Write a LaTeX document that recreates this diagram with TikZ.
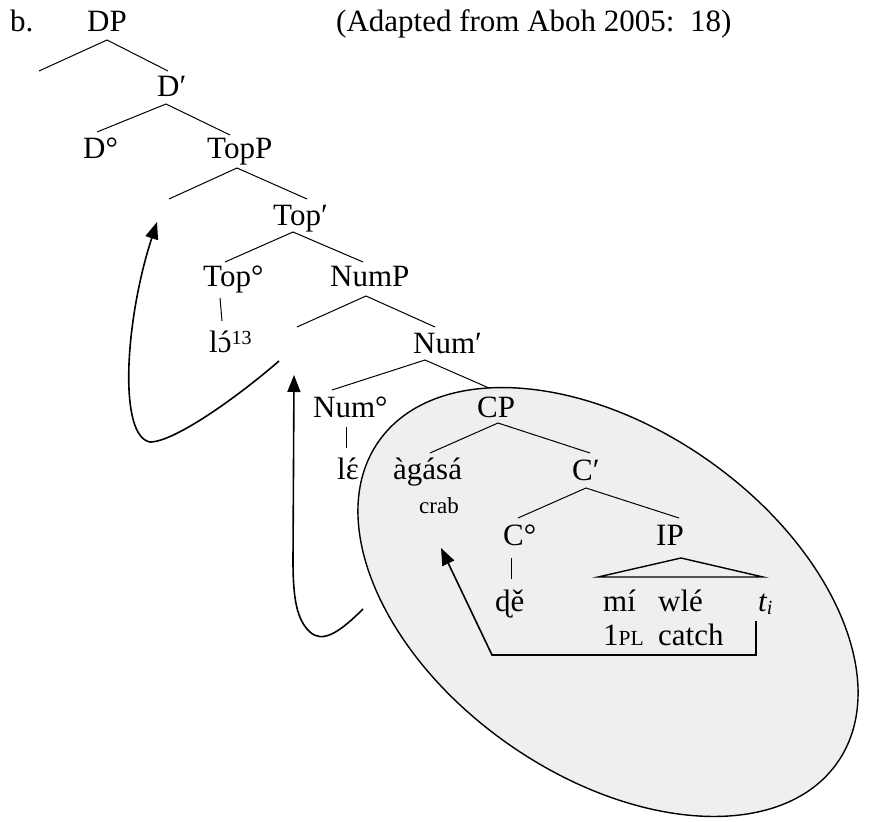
\documentclass[tikz,border=0pt]{standalone}
\usepackage{fontspec}
\setmainfont{Liberation Serif}
\usetikzlibrary{arrows.meta}
\definecolor{zone}{HTML}{EFEFEF}

\newcommand{\smallcap}[1]{{\fontsize{21.5}{24}\selectfont #1}}
\newcommand{\acu}[1]{\accent"00B4 #1}

\begin{document}
\begin{tikzpicture}[x=1pt,y=-1pt,
	every node/.style={inner sep=0pt,anchor=base west,font=\fontsize{31}{37}\selectfont},
	gloss/.style={font=\fontsize{23}{26}\selectfont},
	branch/.style={line width=1pt},
	move/.style={line width=1.6pt,-{Triangle[length=17pt,width=13pt]}}]
	\useasboundingbox (0,0) rectangle (869,821);
	
	% shaded CP
	\coordinate (zc) at (608,602);
	\draw[line width=1.4pt,fill=zone,rotate around={-35:(zc)}] (zc) ellipse [x radius=280,y radius=173.5];
	
	\node (ex) at (10,32) {b.};
	\node (dp) at (87,32) {DP};
	\node (src) at (336,32) {(Adapted from Aboh 2005:\ \ 18)};
	\node (dbar) at (157,97) {D′};
	\node (d0) at (83,159) {D°};
	\node (topp) at (207,159) {TopP};
	\node (topbar) at (273,225) {Top′};
	\node (top0) at (203,286) {Top°};
	\node (nump) at (330,286) {NumP};
	\node (lo) at (209,352) {l\acu{ɔ}\raisebox{8pt}{\fontsize{20}{20}\selectfont 13}};
	\node (numbar) at (413,353) {Num′};
	\node (num0) at (313,417) {Num°};
	\node (cp) at (477,417) {CP};
	\node (le) at (337,479) {l\acu{ɛ}};
	\node (agasa) at (393,479) {àgásá};
	\node[gloss] (crab) at (419,513) {crab};
	\node (cbar) at (572,480) {C′};
	\node (c0) at (503,545) {C°};
	\node (ip) at (656,545) {IP};
	\node (de) at (495,611) {ɖě};
	\node (mi) at (603,611) {mí};
	\node (wle) at (658,611) {wlé};
	\node (ti) at (758,611) {\itshape t\raisebox{-3pt}{\fontsize{20}{20}\selectfont i}};
	\node (pl) at (603,645) {1\smallcap{PL}};
	\node (catch) at (658,645) {catch};
	
	% branches
	\coordinate (dpA) at (107,40);   \coordinate (dpL) at (39,71);   \coordinate (dpR) at (168,71);
	\coordinate (dbA) at (166,104);  \coordinate (dbL) at (97,132);  \coordinate (dbR) at (230,135);
	\coordinate (tpA) at (237,168);  \coordinate (tpL) at (169,199); \coordinate (tpR) at (307,199);
	\coordinate (tbA) at (293,232);  \coordinate (tbL) at (225,262); \coordinate (tbR) at (363,262);
	\coordinate (npA) at (366,296);  \coordinate (npL) at (297,327); \coordinate (npR) at (435,327);
	\coordinate (nbA) at (425,360);  \coordinate (nbL) at (332,390); \coordinate (nbR) at (489,388);
	\coordinate (cpA) at (498,423);  \coordinate (cpL) at (430,453); \coordinate (cpR) at (590,453);
	\coordinate (cbA) at (586,488);  \coordinate (cbL) at (518,518); \coordinate (cbR) at (679,518);
	\draw[branch] (dpL) -- (dpA) -- (dpR);
	\draw[branch] (dbL) -- (dbA) -- (dbR);
	\draw[branch] (tpL) -- (tpA) -- (tpR);
	\draw[branch] (tbL) -- (tbA) -- (tbR);
	\draw[branch] (npL) -- (npA) -- (npR);
	\draw[branch] (nbL) -- (nbA) -- (nbR);
	\draw[branch] (cpL) -- (cpA) -- (cpR);
	\draw[branch] (cbL) -- (cbA) -- (cbR);
	
	% heads and their words
	\coordinate (t0a) at (220,298);  \coordinate (t0b) at (222,321);
	\coordinate (n0a) at (346,427);  \coordinate (n0b) at (346,448);
	\coordinate (c0a) at (511,558);  \coordinate (c0b) at (511,579);
	\draw[branch] (t0a) -- (t0b);
	\draw[branch] (n0a) -- (n0b);
	\draw[branch] (c0a) -- (c0b);
	
	% IP triangle
	\coordinate (ipA) at (681,558);  \coordinate (ipL) at (598,577); \coordinate (ipR) at (763,577);
	\draw[line width=1.4pt] (ipL) -- (ipA) -- (ipR) -- cycle;
	
	% movements
	\coordinate (m1s) at (279,361);  \coordinate (m1t) at (157,222);
	\coordinate (m2s) at (363,609);  \coordinate (m2t) at (294,375);
	\coordinate (m3s) at (756,621);  \coordinate (m3t) at (441,548);
	\draw[move] (m1s) .. controls (240,395) and (175,442) .. (150,442)
		.. controls (118,436) and (125,320) .. (m1t);
	\draw[move] (m2s) .. controls (338,634) and (322,643) .. (310,632)
		.. controls (297,620) and (293,600) .. (293,560) -- (m2t);
	\draw[move] (m3s) -- (756,655) -- (492,655) -- (m3t);
	
\end{tikzpicture}
\end{document}
